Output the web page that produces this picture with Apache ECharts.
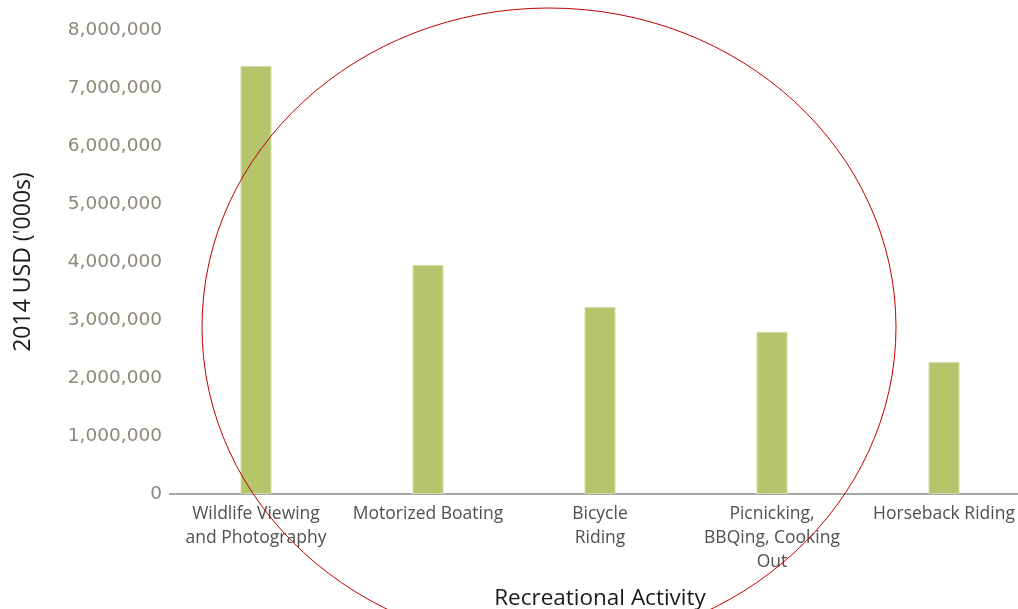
<!DOCTYPE html>
<html>
<head>
<meta charset="utf-8">
<script src="https://cdn.jsdelivr.net/npm/echarts@6/dist/echarts.min.js"></script>
<style>
  html, body { margin: 0; padding: 0; background: #ffffff; }
  #chart { width: 1018px; height: 609px; }
</style>
</head>
<body>
<div id="chart"></div>
<script>
// Recreational activity spending, 2014 USD ('000s)
const categories = [
  'Wildlife Viewing\nand Photography',
  'Motorized Boating',
  'Bicycle\nRiding',
  'Picnicking,\nBBQing, Cooking\nOut',
  'Horseback Riding'
];
const spending = [7380000, 3950000, 3225000, 2795000, 2275000];
const yTicks = { min: 0, max: 8000000, interval: 1000000 };

const chart = echarts.init(document.getElementById('chart'));

const fmt = v => v.toLocaleString('en-US');

chart.setOption({
  animation: false,
  backgroundColor: '#ffffff',
  grid: { left: 170, right: -12, top: 30, bottom: 115, outerBoundsMode: 'none' },
  xAxis: {
    type: 'category',
    data: categories,
    name: 'Recreational Activity',
    nameLocation: 'middle',
    nameGap: 93,
    nameTextStyle: { color: '#1a1a1a', fontSize: 22.5, fontFamily: 'Open Sans' },
    axisLine: { lineStyle: { color: '#a6a6a6', width: 2 } },
    axisTick: { show: false },
    axisLabel: {
      color: '#505050', fontSize: 17.5, fontFamily: 'Open Sans',
      lineHeight: 24, margin: 8, interval: 0
    }
  },
  yAxis: {
    type: 'value',
    min: yTicks.min, max: yTicks.max, interval: yTicks.interval,
    name: "2014 USD ('000s)",
    nameLocation: 'middle',
    nameRotate: 90,
    nameGap: 135,
    nameTextStyle: { color: '#1a1a1a', fontSize: 23, fontFamily: 'Open Sans' },
    axisLine: { show: false },
    axisTick: { show: false },
    splitLine: { show: false },
    axisLabel: {
      color: '#8d877b', fontSize: 18.5, fontFamily: 'DejaVu Sans',
      margin: 8, formatter: fmt
    }
  },
  series: [{
    type: 'bar',
    data: spending,
    barWidth: 31,
    itemStyle: { color: '#b6c46b', borderColor: '#d4dca6', borderWidth: 1 }
  }],
  graphic: [{
    type: 'ellipse',
    shape: { cx: 549, cy: 327, rx: 347, ry: 319 },
    style: { fill: 'none', stroke: '#c00000', lineWidth: 1 },
    z: 100
  }]
});
</script>
</body>
</html>
